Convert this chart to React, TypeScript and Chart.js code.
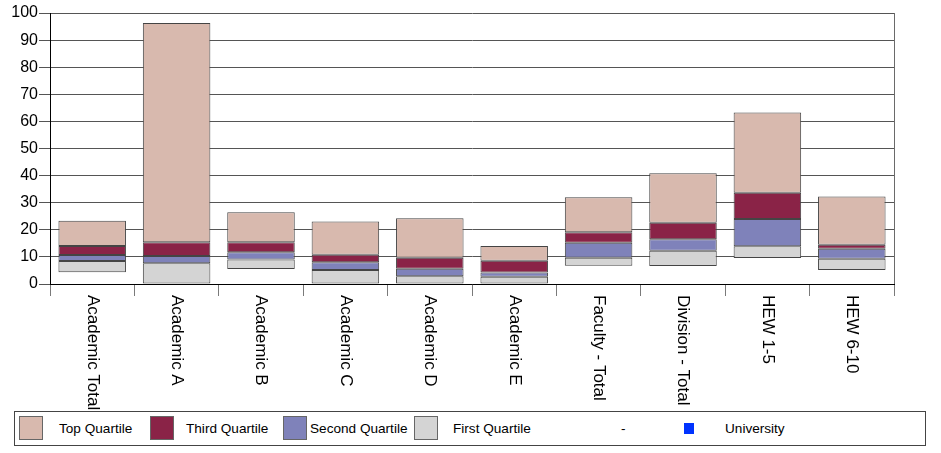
import React, { useEffect, useRef } from "react";
import { Chart, registerables } from "chart.js";

Chart.register(...registerables);

const categories = [
  "Academic Total",
  "Academic A",
  "Academic B",
  "Academic C",
  "Academic D",
  "Academic E",
  "Faculty - Total",
  "Division - Total",
  "HEW 1-5",
  "HEW 6-10",
];

const minimum = [4.3, 0, 5.5, 0, 0, 0, 6.7, 6.6, 9.6, 5.2];
const firstQuartileTop = [8.5, 7.7, 9.0, 5.2, 2.9, 2.7, 9.7, 12.3, 13.9, 9.3];
const secondQuartileTop = [10.7, 10.3, 11.7, 8.0, 5.6, 4.2, 15.2, 16.5, 24.0, 13.0];
const thirdQuartileTop = [14.0, 15.4, 15.4, 10.8, 9.7, 8.6, 19.1, 22.6, 33.7, 14.5];
const maximum = [23.3, 96.3, 26.5, 23.1, 24.3, 14.0, 32.0, 40.9, 63.3, 32.3];

const yTicks = [0, 10, 20, 30, 40, 50, 60, 70, 80, 90, 100];

const seriesNames = ["Top Quartile", "Third Quartile", "Second Quartile", "First Quartile"];
const seriesColors = ["#D8B9AE", "#8A2347", "#7F82BA", "#D4D4D4"];

const FONT = "'Liberation Sans', Arial, sans-serif";

const pairs = (lo: number[], hi: number[]) => lo.map((v, i) => [v, hi[i]]);

const rotatedLabels = {
  id: "rotatedLabels",
  afterDraw(chart: any) {
    const ctx = chart.ctx;
    const xs = chart.scales.x;
    const area = chart.chartArea;
    ctx.save();
    ctx.fillStyle = "#000";
    ctx.font = `17px ${FONT}`;
    ctx.textAlign = "left";
    ctx.textBaseline = "middle";
    categories.forEach((label, i) => {
      const x = xs.getPixelForValue(i);
      ctx.save();
      ctx.translate(x, area.bottom + 11);
      ctx.rotate(Math.PI / 2);
      ctx.fillText(label, 0, 0);
      ctx.restore();
    });
    // right frame line
    ctx.strokeStyle = "#6a6a6a";
    ctx.lineWidth = 1;
    ctx.beginPath();
    ctx.moveTo(Math.round(area.right) + 0.5, area.top);
    ctx.lineTo(Math.round(area.right) + 0.5, area.bottom);
    ctx.stroke();
    ctx.restore();
  },
};

export default function App() {
  const canvasRef = useRef<HTMLCanvasElement | null>(null);

  useEffect(() => {
    if (!canvasRef.current) return;
    const bounds = [
      pairs(thirdQuartileTop, maximum),
      pairs(secondQuartileTop, thirdQuartileTop),
      pairs(firstQuartileTop, secondQuartileTop),
      pairs(minimum, firstQuartileTop),
    ];
    const chart = new Chart(canvasRef.current, {
      type: "bar",
      data: {
        labels: categories,
        datasets: seriesNames.map((name, k) => ({
          label: name,
          data: bounds[k] as any,
          backgroundColor: seriesColors[k],
          borderColor: "#444",
          borderWidth: 1,
          borderSkipped: false,
          grouped: false,
          categoryPercentage: 1,
          barPercentage: 0.8,
        })),
      },
      options: {
        responsive: false,
        animation: false,
        layout: { padding: { top: 13, right: 47, left: 0, bottom: 0 } },
        plugins: {
          legend: { display: false },
          tooltip: { enabled: false },
        },
        scales: {
          x: {
            offset: true,
            ticks: { display: false },
            grid: {
              offset: true,
              drawOnChartArea: false,
              drawTicks: true,
              tickLength: 12,
              color: "#7a7a7a",
            },
            border: { color: "#000", width: 1 },
            afterFit(scale: any) {
              scale.height = 169;
            },
          },
          y: {
            min: 0,
            max: 100,
            afterBuildTicks(scale: any) {
              scale.ticks = yTicks.map((v) => ({ value: v }));
            },
            ticks: {
              color: "#000",
              font: { family: FONT, size: 16 },
              padding: 1,
            },
            grid: {
              color: "#555",
              lineWidth: 1,
              drawTicks: true,
              tickLength: 11,
            },
            border: { color: "#000", width: 1 },
            afterFit(scale: any) {
              scale.width = 50;
            },
          },
        },
      },
      plugins: [rotatedLabels],
    });
    return () => chart.destroy();
  }, []);

  const swatch = (left: number, color: string) => (
    <div
      style={{
        position: "absolute",
        left,
        top: 4,
        width: 22,
        height: 22,
        background: color,
        border: "1px solid #666",
      }}
    />
  );
  const text = (left: number, label: string) => (
    <div
      style={{
        position: "absolute",
        left,
        top: 0,
        height: 33,
        lineHeight: "33px",
        fontSize: 13.6,
        fontFamily: FONT,
        color: "#000",
        whiteSpace: "nowrap",
      }}
    >
      {label}
    </div>
  );

  return (
    <div style={{ position: "absolute", left: 0, top: 0, width: 941, height: 453, background: "#fff" }}>
      <canvas ref={canvasRef} width={941} height={453} style={{ width: 941, height: 453, display: "block" }} />
      <div
        style={{
          position: "absolute",
          left: 14,
          top: 411,
          width: 910,
          height: 33,
          border: "1px solid #444",
          background: "#fff",
        }}
      >
        {swatch(4, seriesColors[0])}
        {text(44, seriesNames[0])}
        {swatch(135, seriesColors[1])}
        {text(171, seriesNames[1])}
        {swatch(268, seriesColors[2])}
        {text(295, seriesNames[2])}
        {swatch(399, seriesColors[3])}
        {text(438, seriesNames[3])}
        {text(606, "-")}
        <div style={{ position: "absolute", left: 669, top: 11, width: 10, height: 11, background: "#0033FF" }} />
        {text(710, "University")}
      </div>
    </div>
  );
}
